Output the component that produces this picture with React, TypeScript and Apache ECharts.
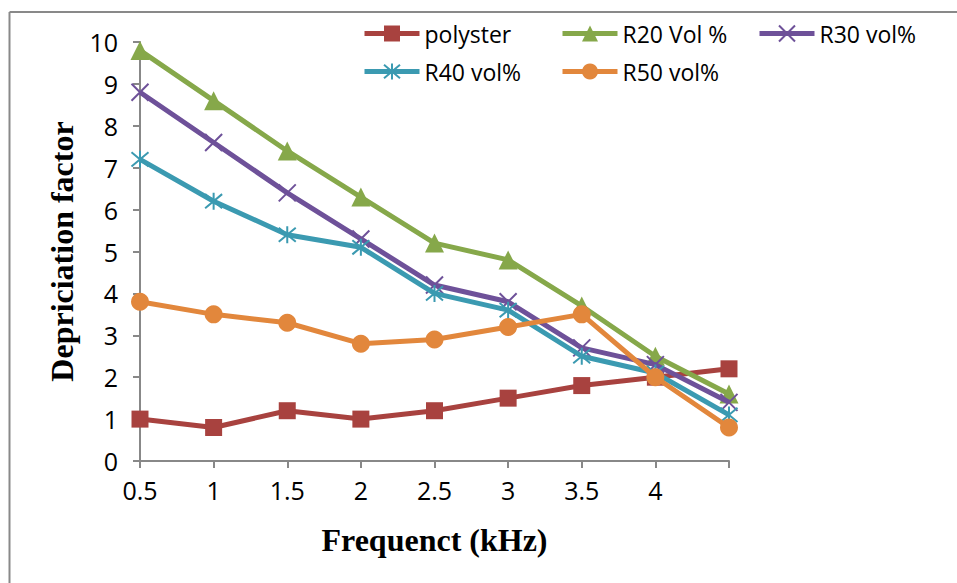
import React, { useEffect, useRef } from "react";
import * as echarts from "echarts";

const categories = ["0.5", "1", "1.5", "2", "2.5", "3", "3.5", "4", ""];
const polyster = [1.0, 0.8, 1.2, 1.0, 1.2, 1.5, 1.8, 2.0, 2.2];
const r20 = [9.8, 8.6, 7.4, 6.3, 5.2, 4.8, 3.7, 2.5, 1.6];
const r30 = [8.8, 7.6, 6.4, 5.3, 4.2, 3.8, 2.7, 2.3, 1.4];
const r40 = [7.2, 6.2, 5.4, 5.1, 4.0, 3.6, 2.5, 2.1, 1.1];
const r50 = [3.8, 3.5, 3.3, 2.8, 2.9, 3.2, 3.5, 2.0, 0.8];

const seriesNames = ["polyster", "R20 Vol %", "R30 vol%", "R40 vol%", "R50 vol%"];
const colors = ["#A8423F", "#86A84A", "#6E5199", "#3B9AB1", "#E2873C"];

export default function App() {
  const ref = useRef<HTMLDivElement>(null);
  useEffect(() => {
    if (!ref.current) return;
    const chart = echarts.init(ref.current, undefined, { renderer: "svg" });
    const legendFont = { fontFamily: "Open Sans", fontSize: 23, color: "#000" };
    const legendPos = [
      { left: 362, top: 22 },
      { left: 560, top: 22 },
      { left: 757, top: 22 },
      { left: 362, top: 60 },
      { left: 560, top: 60 },
    ];
    const symbols = [
      { symbol: "rect", size: 17 },
      { symbol: "triangle", size: 19 },
      { symbol: "path://M0,0L10,10M10,0L0,10", size: 17 },
      { symbol: "path://M0,0L10,10M10,0L0,10M5,-1L5,11", size: 17 },
      { symbol: "circle", size: 18 },
    ];
    const dataSets = [polyster, r20, r30, r40, r50];
    const series = dataSets.map((d, i) => {
      const stroked = i === 2 || i === 3;
      return {
        name: seriesNames[i],
        type: "line",
        data: d,
        symbol: symbols[i].symbol,
        symbolSize: symbols[i].size,
        showAllSymbol: true,
        lineStyle: { color: colors[i], width: 5 },
        itemStyle: stroked
          ? { color: colors[i], borderColor: colors[i], borderWidth: 2 }
          : { color: colors[i], borderWidth: 0 },
        z: 2 + i,
      };
    });
    chart.setOption({
      animation: false,
      backgroundColor: "#fff",
      legend: legendPos.map((p, i) => ({
        data: [seriesNames[i]],
        left: p.left,
        top: p.top,
        padding: 0,
        itemWidth: 55,
        itemHeight: 20,
        itemGap: 4,
        lineStyle: { width: 5 },
        textStyle: legendFont,
        selectedMode: false,
      })),
      grid: { left: 140, top: 42, right: 228, bottom: 122, containLabel: false },
      xAxis: {
        type: "category",
        data: categories,
        boundaryGap: false,
        name: "Frequenct (kHz)",
        nameLocation: "middle",
        nameGap: 63,
        nameTextStyle: {
          fontFamily: "Liberation Serif",
          fontWeight: "bold",
          fontSize: 32,
          color: "#000",
        },
        axisLine: { lineStyle: { color: "#888", width: 2 } },
        axisTick: { show: true, length: 7, alignWithLabel: true, lineStyle: { color: "#888", width: 2 } },
        axisLabel: { fontFamily: "Open Sans", fontSize: 25, color: "#000", margin: 16, interval: 0 },
        splitLine: { show: false },
      },
      yAxis: {
        type: "value",
        min: 0,
        max: 10,
        interval: 1,
        name: "Depriciation factor",
        nameLocation: "middle",
        nameGap: 62,
        nameTextStyle: {
          fontFamily: "Liberation Serif",
          fontWeight: "bold",
          fontSize: 32,
          color: "#000",
        },
        axisLine: { show: true, lineStyle: { color: "#888", width: 2 } },
        axisTick: { show: true, length: 7, lineStyle: { color: "#888", width: 2 } },
        axisLabel: { fontFamily: "Open Sans", fontSize: 25, color: "#000", margin: 22 },
        splitLine: { show: false },
      },
      graphic: [
        { type: "line", shape: { x1: 9.5, y1: 12, x2: 957, y2: 12 }, style: { stroke: "#898989", lineWidth: 2 } },
        { type: "line", shape: { x1: 9.5, y1: 12, x2: 9.5, y2: 583 }, style: { stroke: "#898989", lineWidth: 2 } },
      ],
      series,
    });
    return () => chart.dispose();
  }, []);
  return (
    <div
      ref={ref}
      style={{ position: "fixed", left: 0, top: 0, width: 957, height: 583 }}
    />
  );
}
